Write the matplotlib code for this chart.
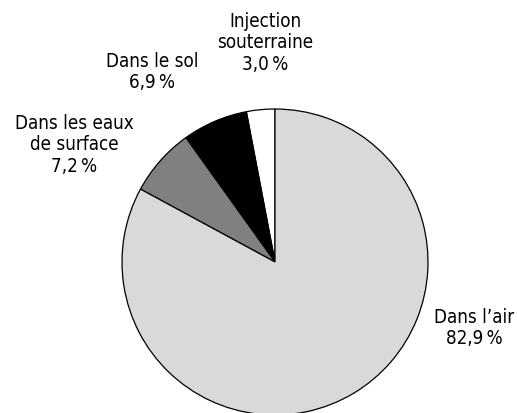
import matplotlib
matplotlib.use("Agg")
import matplotlib.pyplot as plt
from matplotlib import font_manager

# ── Data ─────────────────────────────────────────────────────────────────────
# counter-clockwise from 12 o'clock
categories = ["Injection\nsouterraine", "Dans le sol", "Dans les eaux\nde surface", "Dans l\u2019air"]
shares = [3.0, 6.9, 7.2, 82.9]
colors = ["#ffffff", "#000000", "#808080", "#d9d9d9"]

# label centres in pixels (x, y from top)
label_pos = [(265, 43), (152, 72), (74, 145), (474, 328)]

W, H = 517, 414

# narrow font if there is one, else plain DejaVu Sans
have_condensed = any(f.name == "DejaVu Sans" and f.stretch == "condensed"
                     for f in font_manager.fontManager.ttflist)
stretch = "condensed" if have_condensed else "normal"
size = 13.5 if have_condensed else 12.5

fig = plt.figure(figsize=(W / 100, H / 100), dpi=100)
ax = fig.add_axes([0, 0, 1, 1])

ax.pie(shares, colors=colors, startangle=90, counterclock=True,
       center=(275, H - 263), radius=153, frame=True,
       wedgeprops=dict(edgecolor="black", linewidth=0.9))
ax.set_xlim(0, W)
ax.set_ylim(0, H)
ax.set_aspect("equal")
ax.axis("off")

for cat, val, (x, y) in zip(categories, shares, label_pos):
    txt = f"{cat}\n{val:.1f}".replace(".", ",") + "\u2009%"
    ax.text(x, H - y, txt, ha="center", va="center", fontsize=size,
            fontfamily="DejaVu Sans", fontstretch=stretch,
            linespacing=1.15, color="black")

fig.savefig("out.png", dpi=100)
